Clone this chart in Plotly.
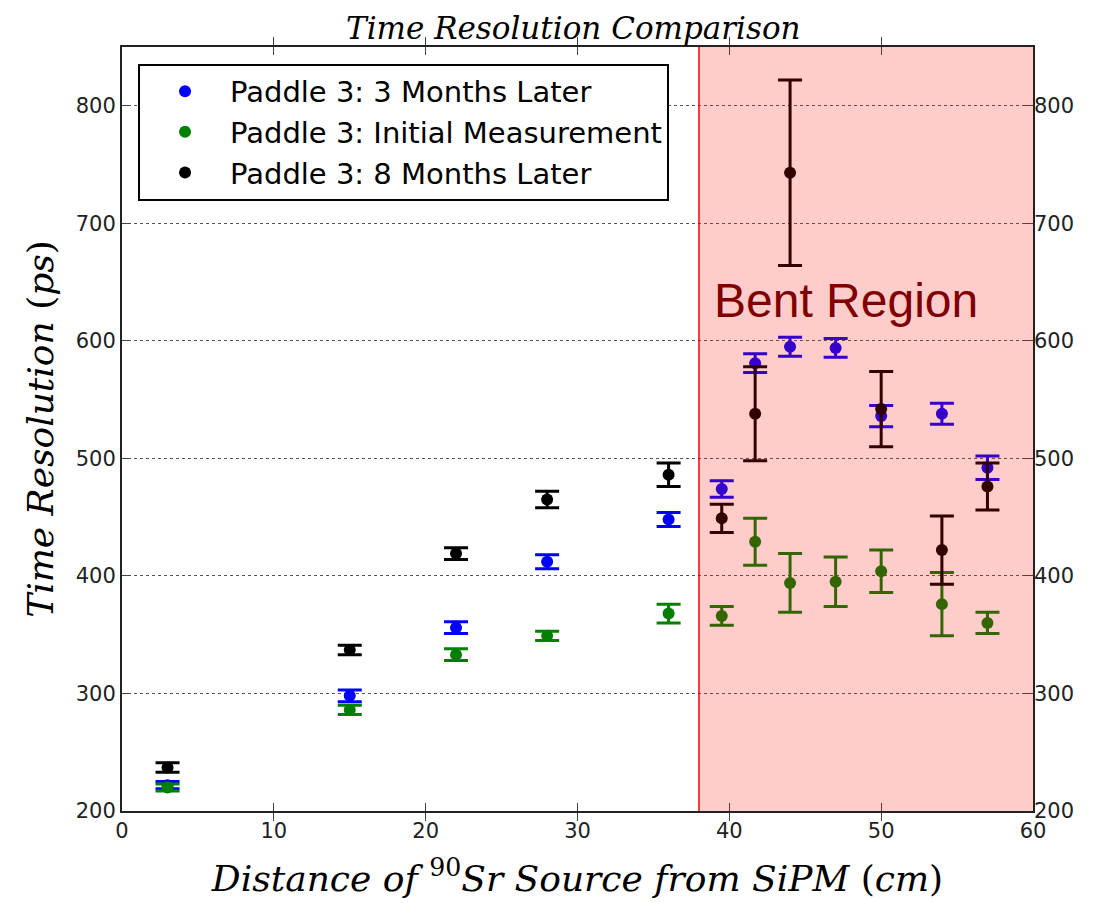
import plotly.graph_objects as go

# ---- data ----
x_pos = [3, 15, 22, 28, 36, 39.5, 41.7, 44, 47, 50, 54, 57]

blue_3mo = [222, 298, 356, 412, 448, 474, 581, 595, 594, 536, 538, 492]
blue_err = [3, 5, 5, 6, 6, 7, 8, 8, 8, 9, 9, 10]

green_init = [220, 286, 333, 349, 368, 366, 429, 394, 395, 404, 376, 360]
green_err = [3, 4, 5, 4, 8, 8, 20, 25, 21, 18, 27, 9]

black_x = [3, 15, 22, 28, 36, 39.5, 41.7, 44, 50, 54, 57]
black_8mo = [237, 337, 419, 465, 486, 449, 538, 743, 542, 422, 476]
black_err = [4, 4, 5, 7, 10, 12, 40, 79, 32, 29, 20]

series_names = ["Paddle 3: 3 Months Later", "Paddle 3: Initial Measurement", "Paddle 3: 8 Months Later"]
colors = ["#0000ff", "#008000", "#000000"]

y_ticks = [200, 300, 400, 500, 600, 700, 800]
x_ticks = [0, 10, 20, 30, 40, 50, 60]

bent_start, bent_end = 38, 60

fig = go.Figure()

for xs, ys, es, name, col in [
    (x_pos, blue_3mo, blue_err, series_names[0], colors[0]),
    (x_pos, green_init, green_err, series_names[1], colors[1]),
    (black_x, black_8mo, black_err, series_names[2], colors[2]),
]:
    fig.add_trace(go.Scatter(
        x=xs, y=ys, mode="markers", name=name,
        marker=dict(color=col, size=12),
        error_y=dict(type="data", array=es, visible=True, color=col, thickness=3, width=12),
    ))

# right axis labels
fig.add_trace(go.Scatter(x=[0], y=[200], yaxis="y2", mode="markers", marker=dict(opacity=0),
                         showlegend=False, hoverinfo="skip"))

fig.add_shape(type="rect", xref="x", yref="paper", x0=bent_start, x1=bent_end, y0=0, y1=1,
              fillcolor="rgba(255,0,0,0.2)", line=dict(width=0), layer="above")
fig.add_shape(type="line", xref="x", yref="paper", x0=bent_start, x1=bent_start, y0=0, y1=1,
              line=dict(color="#ff0000", width=1.5), layer="above")

fig.add_annotation(x=47.7, y=634, xref="x", yref="y", text="Bent Region", showarrow=False,
                   font=dict(family="Liberation Sans, Arial", size=48, color="#800000"))

tick_font = dict(family="DejaVu Sans", size=21, color="#222")
# page body adds an 8px offset, so the figure is sized/margined to compensate
fig.update_layout(
    width=1085, height=895,
    margin=dict(l=114, r=60, t=39, b=92, autoexpand=False),
    paper_bgcolor="white", plot_bgcolor="white",
    title=dict(text="<i>Time Resolution Comparison</i>", x=0.521, xanchor="center", y=0.978, yanchor="middle",
               font=dict(family="DejaVu Serif", size=31, color="black")),
    xaxis=dict(range=[0, 60], tickvals=x_ticks, ticks="inside", ticklen=8, tickcolor="#444",
               showline=True, linecolor="#222", linewidth=2, mirror="allticks",
               showgrid=False, zeroline=False, tickfont=tick_font, automargin=False,
               title=dict(text="<i>Distance of </i><sup>90</sup><i>Sr Source from SiPM</i> (<i>cm</i>)",
                          font=dict(family="DejaVu Serif", size=36, color="black"), standoff=24)),
    yaxis=dict(range=[200, 850], tickvals=y_ticks, ticks="inside", ticklen=8, tickcolor="#444",
               showline=True, linecolor="#222", linewidth=2, mirror="allticks",
               showgrid=True, gridcolor="#555", griddash="dot", gridwidth=1, zeroline=False,
               tickfont=tick_font, automargin=False,
               title=dict(text="<i>Time Resolution</i> (<i>ps</i>)",
                          font=dict(family="DejaVu Serif", size=36, color="black"), standoff=11)),
    yaxis2=dict(range=[200, 850], tickvals=y_ticks, overlaying="y", side="right", matches="y",
                showgrid=False, zeroline=False, ticks="", tickfont=tick_font, showline=False,
                automargin=False),
    legend=dict(x=0.0176, y=0.978, xanchor="left", yanchor="top", bgcolor="white",
                bordercolor="black", borderwidth=2,
                font=dict(family="DejaVu Sans", size=29, color="black"),
                itemwidth=80, tracegroupgap=2),
    showlegend=True,
)

fig.write_html("out.html")
